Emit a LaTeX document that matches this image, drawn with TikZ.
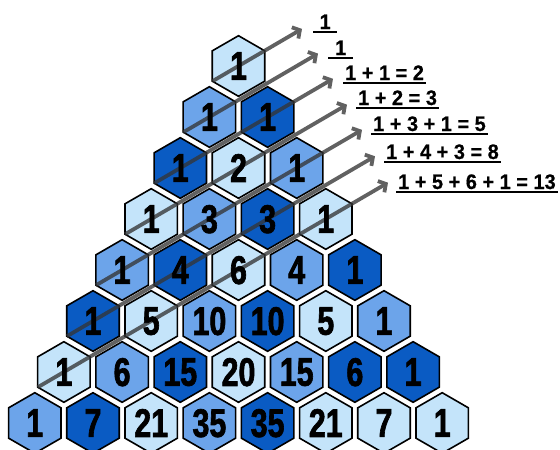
\documentclass[tikz,border=0pt]{standalone}
\usepackage{fontspec}
\setmainfont{Liberation Sans}
\newfontfamily\numfont{Liberation Sans}[FakeStretch=0.76,FakeBold=1.6]
\newfontfamily\labfont{Liberation Sans}[FakeStretch=0.95,FakeBold=0.6]
\usetikzlibrary{calc,arrows.meta}
\definecolor{hexL}{HTML}{C4E4FA}
\definecolor{hexM}{HTML}{6CA4EA}
\definecolor{hexD}{HTML}{0A5BC3}
\definecolor{arrowgray}{HTML}{353535}
\tikzset{
  hexcell/.style={draw=black, line width=1.6pt, line join=miter},
  numtext/.style={inner sep=0pt, text depth=0pt, font=\numfont\bfseries\fontsize{40}{40}\selectfont, text=black},
  diag/.style={draw=arrowgray, line width=3.8pt, -{Straight Barb[length=5.5pt,width=13pt]}},
  labtext/.style={inner xsep=2pt, inner ysep=0pt, font=\labfont\bfseries\fontsize{21}{21}\selectfont, text=black},
  uline/.style={draw=black, line width=2pt}
}
\begin{document}
\begin{tikzpicture}[x=1pt,y=-1pt]
\useasboundingbox (0,0) rectangle (560,450);
% hexagons
\foreach \r/\k/\col in {
  0/0/hexL,
  1/0/hexM, 1/1/hexD,
  2/0/hexD, 2/1/hexL, 2/2/hexM,
  3/0/hexL, 3/1/hexM, 3/2/hexD, 3/3/hexL,
  4/0/hexM, 4/1/hexD, 4/2/hexL, 4/3/hexM, 4/4/hexD,
  5/0/hexD, 5/1/hexL, 5/2/hexM, 5/3/hexD, 5/4/hexL, 5/5/hexM,
  6/0/hexL, 6/1/hexM, 6/2/hexD, 6/3/hexL, 6/4/hexM, 6/5/hexD, 6/6/hexD,
  7/0/hexM, 7/1/hexD, 7/2/hexL, 7/3/hexM, 7/4/hexD, 7/5/hexL, 7/6/hexL, 7/7/hexL}{
  \pgfmathsetmacro\cx{238.5+(\k-\r/2)*58.2}
  \pgfmathsetmacro\cy{66+51*\r}
  \coordinate (c\r-\k) at (\cx,\cy);
  \draw[hexcell, fill=\col, shift={(\cx,\cy)}]
    (90:30.3) -- (150:30.3) -- (210:30.3) -- (270:30.3) -- (330:30.3) -- (30:30.3) -- cycle;
}
% diagonal arrows
\begin{scope}[transparency group, opacity=0.78]
\foreach \r/\tx in {0/302, 1/318, 2/333, 3/347, 4/362, 5/375, 6/388}{
  \pgfmathsetmacro\cx{238.5-\r*29.1}
  \pgfmathsetmacro\cy{66+51*\r}
  \pgfmathsetmacro\ty{\cy-(\tx-\cx)*0.5842}
  \coordinate (s\r) at ($(c\r-0)+(-26.2,15.3)$);
  \coordinate (t\r) at (\tx,\ty);
  \draw[diag] (s\r) -- (t\r);
}
\end{scope}
% numbers
\foreach \r/\k/\v in {
  0/0/1,
  1/0/1, 1/1/1,
  2/0/1, 2/1/2, 2/2/1,
  3/0/1, 3/1/3, 3/2/3, 3/3/1,
  4/0/1, 4/1/4, 4/2/6, 4/3/4, 4/4/1,
  5/0/1, 5/1/5, 5/2/10, 5/3/10, 5/4/5, 5/5/1,
  6/0/1, 6/1/6, 6/2/15, 6/3/20, 6/4/15, 6/5/6, 6/6/1,
  7/0/1, 7/1/7, 7/2/21, 7/3/35, 7/4/35, 7/5/21, 7/6/7, 7/7/1}{
  \node[numtext] (h\r-\k) at (c\r-\k) {\v};
}
% labels
\node[labtext, anchor=base west, minimum width=24pt] (l0) at (313,29) {1};
\node[labtext, anchor=base west, minimum width=25pt] (l1) at (328,55) {1};
\node[labtext, anchor=base west] (l2) at (343,80) {1 + 1 = 2};
\node[labtext, anchor=base west] (l3) at (356,105) {1 + 2 = 3};
\node[labtext, anchor=base west] (l4) at (371,131) {1 + 3 + 1 = 5};
\node[labtext, anchor=base west] (l5) at (384,159) {1 + 4 + 3 = 8};
\node[labtext, anchor=base west] (l6) at (396,189) {1 + 5 + 6 + 1 = 13};
\foreach \i in {0,...,6}{
  \draw[uline] ([yshift=-2.8pt]l\i.base west) -- ([yshift=-2.8pt]l\i.base east);
}
\end{tikzpicture}
\end{document}
